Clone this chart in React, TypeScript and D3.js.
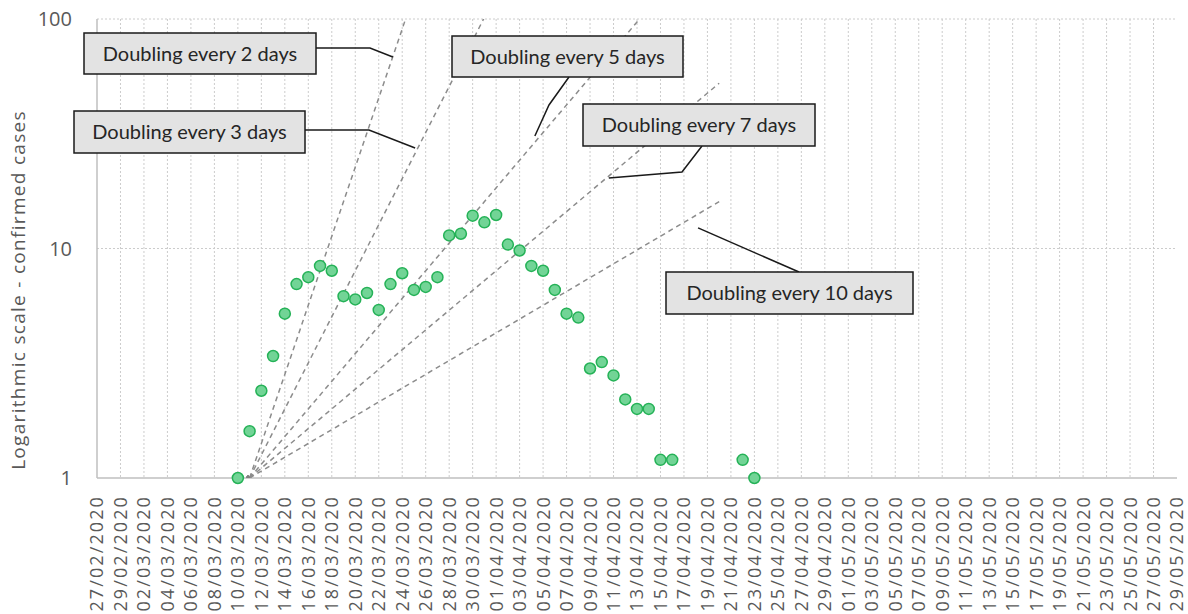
import React from 'react';
import * as d3 from 'd3';

// axis range and data
const axisStart = '2020-02-27';
const axisEnd = '2020-05-29';
const labelStepDays = 2;
const firstCaseDate = '2020-03-10';
// one value per day from firstCaseDate, null = no point
const confirmedCases: (number | null)[] = [
  1, 1.6, 2.4, 3.4, 5.2, 7.0, 7.5, 8.4, 8.0, 6.2,
  6.0, 6.4, 5.4, 7.0, 7.8, 6.6, 6.8, 7.5, 11.4, 11.6,
  13.9, 13.0, 14.0, 10.4, 9.8, 8.4, 8.0, 6.6, 5.2, 5.0,
  3.0, 3.2, 2.8, 2.2, 2.0, 2.0, 1.2, 1.2, null, null,
  null, null, null, 1.2, 1.0,
];
const doublingStart = '2020-03-11';
const doublingSpanDays = 40;
const doublingPeriods = [2, 3, 5, 7, 10];
const yTicks = [1, 10, 100];
const yTitle = 'Logarithmic scale - confirmed cases';

// callout text and where its leader points to (days after doublingStart, value)
const calloutLabels = [
  'Doubling every 2 days',
  'Doubling every 3 days',
  'Doubling every 5 days',
  'Doubling every 7 days',
  'Doubling every 10 days',
];
const calloutTips: [number, number][] = [
  [12.2, 68.3],
  [14.1, 27.4],
  [24.3, 30.9],
  [30.6, 20.3],
  [38.2, 12.3],
];

// callout layout (pixels)
const calloutBoxes = [
  { x: 84, y: 33, w: 232, h: 41, leader: [[316, 48], [370, 48]] },
  { x: 74, y: 111, w: 231, h: 42, leader: [[305, 130], [369, 130]] },
  { x: 452, y: 36, w: 231, h: 41, leader: [[569, 77], [549, 105]] },
  { x: 583, y: 104, w: 232, h: 42, leader: [[702, 146], [682, 172]] },
  { x: 666, y: 272, w: 247, h: 42, leader: [[799, 272]] },
];

const W = 1188;
const H = 614;
const margin = { top: 19, right: 11, bottom: 136, left: 97 };

const parse = d3.utcParse('%Y-%m-%d');
const fmt = d3.utcFormat('%d/%m/%Y');

const App: React.FC = () => {
  const start = parse(axisStart)!;
  const end = parse(axisEnd)!;
  const x = d3.scaleUtc()
    .domain([start, end])
    .range([margin.left, W - margin.right]);
  const y = d3.scaleLog()
    .domain([1, 100])
    .range([H - margin.bottom, margin.top]);

  const x0 = margin.left;
  const x1 = W - margin.right;
  const y0 = H - margin.bottom;
  const y1 = margin.top;

  const nDays = d3.utcDay.count(start, end);
  const labelDays = d3.range(0, nDays + 1, labelStepDays).map(i => d3.utcDay.offset(start, i));
  const points = confirmedCases
    .map((v, i) => ({ date: d3.utcDay.offset(parse(firstCaseDate)!, i), v }))
    .filter(p => p.v !== null) as { date: Date; v: number }[];

  const dStart = parse(doublingStart)!;
  const dEnd = d3.utcDay.offset(dStart, doublingSpanDays);
  const doublingLines = doublingPeriods.map(p => ({
    p,
    x1: x(dStart), y1: y(1),
    x2: x(dEnd), y2: y(Math.pow(2, doublingSpanDays / p)),
  }));

  const tipPos = (t: [number, number]) => [
    x(new Date(dStart.getTime() + t[0] * 86400000)),
    y(t[1]),
  ];

  const labelFont = '"Open Sans", "Noto Sans", sans-serif';
  const boxFont = 'Lato, "Noto Sans", sans-serif';

  return (
    <svg width={W} height={H} style={{ position: 'absolute', left: 0, top: 0, background: '#fff' }}>
      <defs>
        <clipPath id="plot">
          <rect x={x0} y={y1} width={x1 - x0} height={y0 - y1} />
        </clipPath>
        <marker id="arr" viewBox="0 0 10 10" refX="1" refY="5" markerWidth="5" markerHeight="5" orient="auto-start-reverse">
          <path d="M0,0 L10,5 L0,10 z" fill="#7f7f7f" />
        </marker>
      </defs>

      {/* vertical grid */}
      {labelDays.filter(d => x(d) > x0 + 1 && x(d) < x1 - 1).map(d => (
        <line key={+d} x1={x(d)} x2={x(d)} y1={y1} y2={y0} stroke="#cccccc" strokeWidth={1} strokeDasharray="2,2" />
      ))}
      {/* horizontal grid */}
      {yTicks.filter(t => t > 1).map(t => (
        <line key={t} x1={x0} x2={x1} y1={y(t)} y2={y(t)} stroke="#cccccc" strokeWidth={1} strokeDasharray="2,2" />
      ))}
      {/* axes */}
      <line x1={x0} x2={x0} y1={y1} y2={y0} stroke="#bfbfbf" strokeWidth={1.5} />
      <line x1={x0} x2={x1} y1={y0} y2={y0} stroke="#bfbfbf" strokeWidth={1.5} />

      {/* y ticks */}
      {yTicks.map(t => (
        <text key={t} x={72} y={y(t)} dy="0.35em" textAnchor="end" fontFamily={labelFont} fontSize={20} fill="#595959">{t}</text>
      ))}
      <text transform={`translate(25,290) rotate(-90)`} textAnchor="middle" fontFamily={labelFont} fontSize={19} letterSpacing={1.3} fill="#595959">{yTitle}</text>

      {/* x labels */}
      {labelDays.map(d => (
        <text key={+d} transform={`translate(${x(d)},${y0 + 17}) rotate(-90)`} dy="0.36em" textAnchor="end" fontFamily={labelFont} fontSize={18} letterSpacing={2.1} fill="#595959">{fmt(d)}</text>
      ))}

      {/* doubling lines */}
      <g clipPath="url(#plot)">
        {doublingLines.map(l => (
          <line key={l.p} x1={l.x1} y1={l.y1} x2={l.x2} y2={l.y2} stroke="#8c8c8c" strokeWidth={1.5} strokeDasharray="5,4" markerStart="url(#arr)" />
        ))}
      </g>

      {/* points */}
      {points.map(p => (
        <circle key={+p.date} cx={x(p.date)} cy={y(p.v)} r={5.5} fill="#72d496" stroke="#25b257" strokeWidth={1.5} />
      ))}

      {/* callouts */}
      {calloutBoxes.map((b, i) => {
        const tip = tipPos(calloutTips[i]);
        const pts = [...b.leader, tip].map(p => p.join(',')).join(' ');
        return (
          <g key={i}>
            <polyline points={pts} fill="none" stroke="#1a1a1a" strokeWidth={1.5} />
            <rect x={b.x} y={b.y} width={b.w} height={b.h} fill="#e3e3e3" stroke="#1a1a1a" strokeWidth={1.5} />
            <text x={b.x + b.w / 2} y={b.y + b.h / 2} dy="0.36em" textAnchor="middle" fontFamily={boxFont} fontSize={20} fill="#262626">{calloutLabels[i]}</text>
          </g>
        );
      })}
    </svg>
  );
};

export default App;
